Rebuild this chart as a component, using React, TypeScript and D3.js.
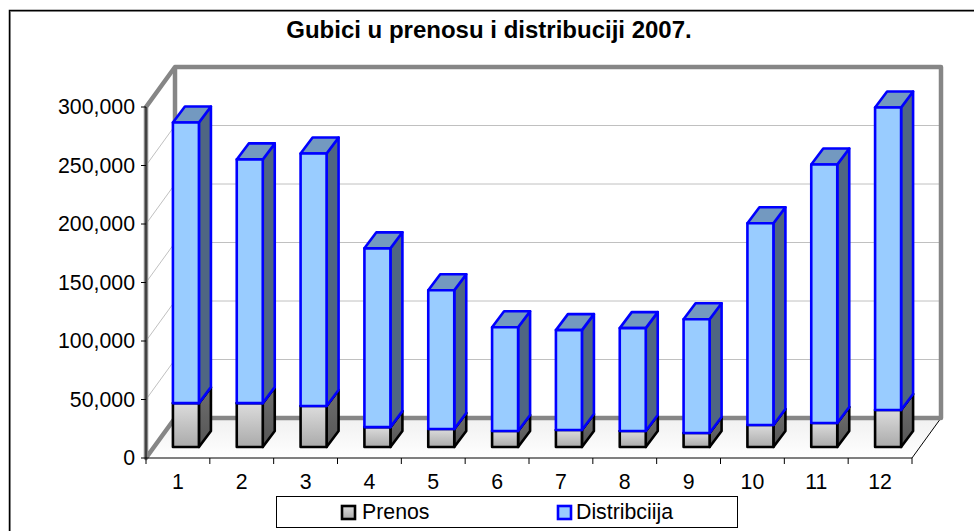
import React from 'react'
import * as d3 from 'd3'

const months = ['1', '2', '3', '4', '5', '6', '7', '8', '9', '10', '11', '12']
const prenos = [37500, 37500, 35000, 17000, 15400, 13700, 14500, 13700, 12000, 18800, 20500, 31600]
const distribucija = [239900, 208300, 215900, 152800, 118600, 88700, 85400, 87900, 97200, 172400, 221000, 258600]
const yTicks = [0, 50000, 100000, 150000, 200000, 250000, 300000]
const legendNames = ['Prenos', 'Distribciija']

const font = '"Liberation Sans", Arial, sans-serif'

// front plane of the 3d box
const x0 = 146
const x1 = 912
const yBottom = 458
const yTop = 107
// wall is pushed back by this much
const wallDx = 29
const wallDy = -40
// bars stand inside the box
const barDepthX = 12
const barDepthY = -16
const barFrontDx = 8
const barFrontDy = -11
const barWidth = 26

const xScale = d3.scaleBand<string>().domain(months).range([x0, x1])
const yScale = d3.scaleLinear().domain([0, 300000]).range([yBottom, yTop])
const fmt = d3.format(',')

function pts(list: number[][]) {
  return list.map(p => p.join(',')).join(' ')
}

function Bar3D(props: { x: number; y0: number; y1: number; front: string; side: string; top: string; stroke: string }) {
  const { x, y0, y1, front, side, top, stroke } = props
  const r = x + barWidth
  return (
    <g stroke={stroke} strokeWidth={2.6} strokeLinejoin="round">
      <polygon points={pts([[r, y0], [r + barDepthX, y0 + barDepthY], [r + barDepthX, y1 + barDepthY], [r, y1]])} fill={side} />
      <polygon points={pts([[x, y1], [x + barDepthX, y1 + barDepthY], [r + barDepthX, y1 + barDepthY], [r, y1]])} fill={top} />
      <rect x={x} y={y1} width={barWidth} height={y0 - y1} fill={front} />
    </g>
  )
}

export default function App() {
  return (
    <svg width={974} height={531} style={{ position: 'absolute', left: 0, top: 0 }}>
      <defs>
        <linearGradient id="greyFront" x1="0" y1="0" x2="0" y2="1">
          <stop offset="0" stopColor="#dcdcdc" />
          <stop offset="1" stopColor="#aaaaaa" />
        </linearGradient>
        <linearGradient id="greySide" x1="0" y1="0" x2="0" y2="1">
          <stop offset="0" stopColor="#6e6e6e" />
          <stop offset="1" stopColor="#555555" />
        </linearGradient>
        <linearGradient id="floor" x1="0" y1="0" x2="0" y2="1">
          <stop offset="0" stopColor="#f0f0f0" />
          <stop offset="1" stopColor="#ffffff" />
        </linearGradient>
      </defs>
      <rect x={0} y={0} width={974} height={531} fill="#fff" />
      {/* only top and left edges of the frame are visible */}
      <polyline points="10.5,531 10.5,11.5 974,11.5" fill="none" stroke="#aaa" strokeWidth={1} />
      <polyline points="9.5,531 9.5,10.5 974,10.5" fill="none" stroke="#000" strokeWidth={1.5} />

      <text x={489} y={38} textAnchor="middle" fontFamily={font} fontWeight="bold" fontSize={24}>
        Gubici u prenosu i distribuciji 2007.
      </text>

      {/* floor */}
      <polygon
        points={pts([[x0, yBottom], [x0 + wallDx, yBottom + wallDy], [x1 + wallDx, yBottom + wallDy], [x1, yBottom]])}
        fill="url(#floor)"
        stroke="none"
      />
      <line x1={x1} y1={yBottom} x2={x1 + wallDx} y2={yBottom + wallDy} stroke="#000" />

      {/* gridlines on side wall and back wall */}
      {yTicks.slice(1, -1).map(t => (
        <polyline
          key={t}
          points={pts([[x0, yScale(t)], [x0 + wallDx, yScale(t) + wallDy], [x1 + wallDx, yScale(t) + wallDy]])}
          fill="none"
          stroke="#c0c0c0"
        />
      ))}
      <polygon
        points={pts([[x0, yTop], [x0 + wallDx, yTop + wallDy], [x1 + wallDx, yTop + wallDy], [x1 + wallDx, yBottom + wallDy], [x0 + wallDx, yBottom + wallDy], [x0, yBottom]])}
        fill="none"
        stroke="#868686"
        strokeWidth={4.5}
        strokeLinejoin="round"
      />
      <line x1={x0 + wallDx} y1={yTop + wallDy} x2={x0 + wallDx} y2={yBottom + wallDy} stroke="#868686" strokeWidth={4.5} />

      {/* bars */}
      {months.map((m, i) => {
        const x = (xScale(m) as number) + xScale.bandwidth() / 2 + barFrontDx - barWidth / 2
        const yBase = yScale(0) + barFrontDy
        const yP = yScale(prenos[i]) + barFrontDy
        const yD = yScale(prenos[i] + distribucija[i]) + barFrontDy
        return (
          <g key={m}>
            <Bar3D x={x} y0={yBase} y1={yP} front="url(#greyFront)" side="url(#greySide)" top="#777" stroke="#000" />
            <Bar3D x={x} y0={yP} y1={yD} front="#99ccff" side="#4f6682" top="#7399c0" stroke="#0000ff" />
          </g>
        )
      })}

      {/* axes */}
      <line x1={x0} y1={yTop} x2={x0} y2={yBottom} stroke="#000" />
      <line x1={x0} y1={yBottom} x2={x1} y2={yBottom} stroke="#000" />
      {yTicks.map(t => (
        <g key={t}>
          <line x1={x0 - 5} x2={x0} y1={yScale(t)} y2={yScale(t)} stroke="#000" />
          <text x={x0 - 11} y={yScale(t) + 7} textAnchor="end" fontFamily={font} fontSize={21.3}>
            {fmt(t)}
          </text>
        </g>
      ))}
      {[...months.map(m => xScale(m) as number), x1].map((v, i) => (
        <line key={i} x1={v} x2={v} y1={yBottom} y2={yBottom + 6} stroke="#000" />
      ))}
      {months.map(m => (
        <text
          key={m}
          x={(xScale(m) as number) + xScale.bandwidth() / 2}
          y={489}
          textAnchor="middle"
          fontFamily={font}
          fontSize={21.3}
        >
          {m}
        </text>
      ))}

      {/* legend */}
      <rect x={276.5} y={496.5} width={461} height={31} fill="#fff" stroke="#000" />
      <rect x={342} y={506} width={13} height={13} fill="url(#greyFront)" stroke="#000" strokeWidth={2.6} />
      <text x={362} y={519} fontFamily={font} fontSize={21.3}>{legendNames[0]}</text>
      <rect x={558} y={506} width={13} height={13} fill="#99ccff" stroke="#0000ff" strokeWidth={2.6} />
      <text x={576} y={519} fontFamily={font} fontSize={21.3}>{legendNames[1]}</text>
    </svg>
  )
}
